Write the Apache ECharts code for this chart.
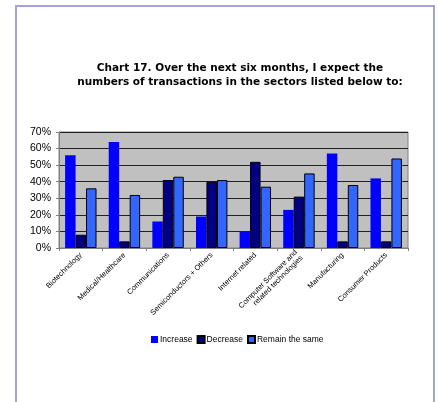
<!DOCTYPE html>
<html>
<head>
<meta charset="utf-8">
<script src="https://cdn.jsdelivr.net/npm/echarts@6/dist/echarts.min.js"></script>
<style>
  html, body { margin: 0; padding: 0; background: #fff; }
  #frame {
    position: absolute; left: 15px; top: 5px; width: 420px; height: 420px;
    border: 2px solid #a4a4d2; box-sizing: border-box;
  }
  #chart { position: absolute; left: 0; top: 0; width: 438px; height: 402px; }
</style>
</head>
<body>
<div id="frame"></div>
<div id="chart"></div>
<script>
// categories and values (percent)
const categories = [
  'Biotechnology',
  'Medical/Healthcare',
  'Communications',
  'Semiconductors + Others',
  'Internet related',
  'Computer Software and\nrelated technologies',
  'Manufacturing',
  'Consumer Products'
]
const increaseData = [56, 64, 16, 19, 10, 23, 57, 42]
const decreaseData = [8, 4, 41, 40, 52, 31, 4, 4]
const remainData = [36, 32, 43, 41, 37, 45, 38, 54]
const seriesNames = ['Increase', 'Decrease', 'Remain the same']
const yTicks = [0, 10, 20, 30, 40, 50, 60, 70]

const chart = echarts.init(document.getElementById('chart'), null, { renderer: 'canvas' })

const font = 'Liberation Sans, Arial, sans-serif'

const option = {
  animation: false,
  textStyle: { fontFamily: font },
  title: {
    text: 'Chart 17. Over the next six months, I expect the\nnumbers of transactions in the sectors listed below to:',
    left: 235,
    top: 57,
    textAlign: 'center',
    textStyle: {
      fontSize: 10.5,
      fontWeight: 'bold',
      color: '#000',
      lineHeight: 13.5,
      fontFamily: 'DejaVu Sans, sans-serif'
    }
  },
  grid: {
    left: 59,
    right: 30,
    top: 132,
    bottom: 154,
    show: true,
    backgroundColor: '#c0c0c0',
    borderColor: '#808080',
    borderWidth: 1
  },
  legend: {
    data: seriesNames,
    left: 146,
    top: 330,
    itemWidth: 7,
    itemHeight: 7,
    itemGap: 4,
    textStyle: { fontSize: 8.5, color: '#000', padding: [0, 0, 0, -3] },
    icon: 'rect'
  },
  xAxis: {
    type: 'category',
    data: categories,
    axisLine: { lineStyle: { color: '#808080' } },
    axisTick: { show: true, length: 3, lineStyle: { color: '#808080' } },
    axisLabel: {
      rotate: 45,
      fontSize: 7.5,
      color: '#000',
      margin: 6,
      interval: 0,
      lineHeight: 8,
      align: 'right'
    }
  },
  yAxis: {
    type: 'value',
    min: 0,
    max: 70,
    interval: 10,
    axisLine: { show: true, lineStyle: { color: '#808080' } },
    axisTick: { show: true, length: 3, lineStyle: { color: '#808080' } },
    axisLabel: {
      fontSize: 10.5,
      color: '#000',
      margin: 8,
      formatter: function (v) { return yTicks.indexOf(v) >= 0 ? v + '%' : '' }
    },
    splitLine: { lineStyle: { color: '#202020', width: 1 } }
  },
  series: [
    {
      name: seriesNames[0],
      type: 'bar',
      data: increaseData,
      barGap: '0%',
      barCategoryGap: '28%',
      itemStyle: { color: '#0000ff' }
    },
    {
      name: seriesNames[1],
      type: 'bar',
      data: decreaseData,
      itemStyle: { color: '#000080', borderColor: '#000', borderWidth: 1 }
    },
    {
      name: seriesNames[2],
      type: 'bar',
      data: remainData,
      itemStyle: { color: '#3366ff', borderColor: '#000', borderWidth: 1 }
    }
  ]
}

chart.setOption(option)
</script>
</body>
</html>
